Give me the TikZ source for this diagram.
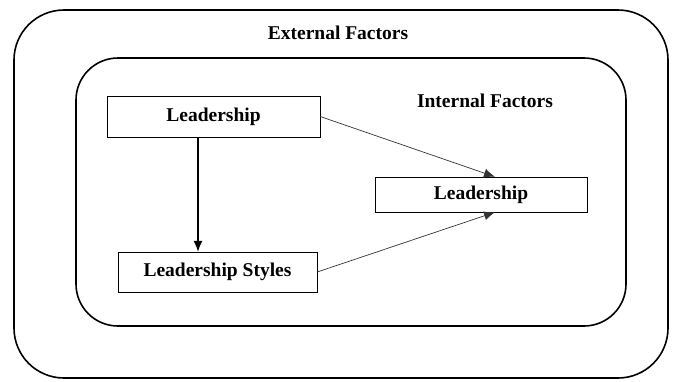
\documentclass[tikz,border=0pt]{standalone}
\usepackage{fontspec}
\setmainfont{Liberation Serif}
\usetikzlibrary{arrows.meta,positioning}

\begin{document}
\begin{tikzpicture}[x=1pt,y=-1pt,>={Latex[length=11pt,width=9pt]},font=\fontsize{19.5}{22}\selectfont\bfseries]
	\useasboundingbox (0,0) rectangle (676,381);
	\draw[line width=1.6pt, rounded corners=50pt] (14,10) rectangle (668,378);
	\draw[line width=1.6pt, rounded corners=42pt] (76,58) rectangle (626,326);
	\node () at (338,33) {External Factors};
	\node () at (485,101) {Internal Factors};
	\node[draw, rectangle, minimum width=213pt, minimum height=41pt] (lead) at (213.5,116.5) {Leadership};
	\node[draw, rectangle, minimum width=199pt, minimum height=40pt] (styles) at (217.5,272) {Leadership Styles};
	\node[draw, rectangle, minimum width=212pt, minimum height=35pt] (outcome) at (481,194.5) {Leadership};
	\draw [->, line width=1.3pt] (lead.south -| 198,0) -- (styles.north -| 198,0);
	\draw [->, black!80, line width=0.7pt] (lead.east) -- ([xshift=14pt]outcome.north);
	\draw [->, black!80, line width=0.7pt] (styles.east) -- ([xshift=14pt]outcome.south);
\end{tikzpicture}
\end{document}
